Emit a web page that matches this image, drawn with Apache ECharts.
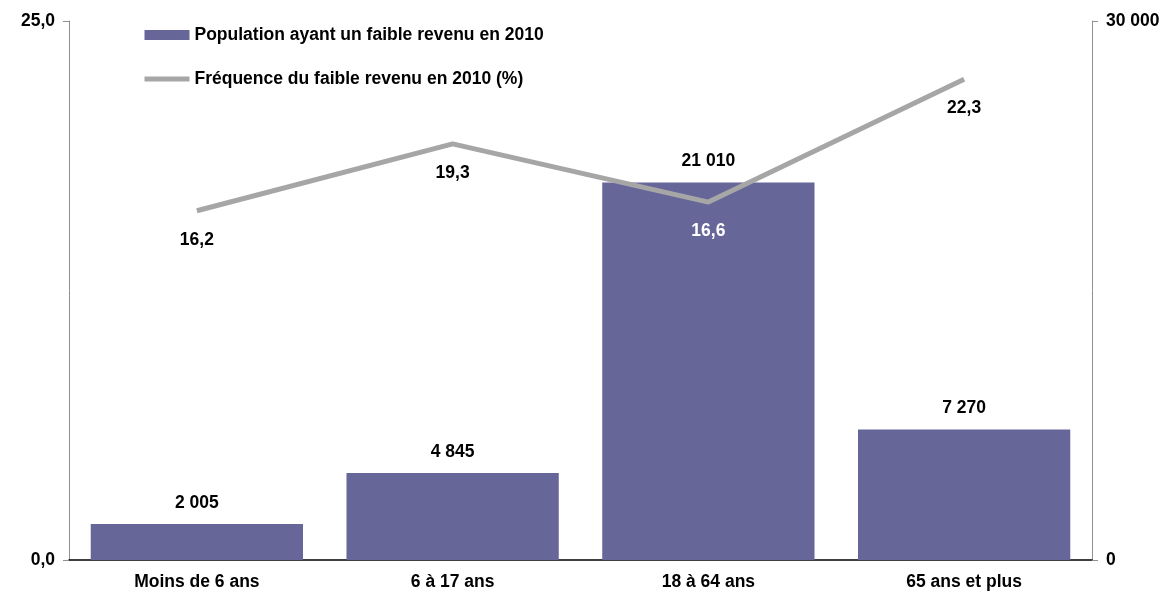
<!DOCTYPE html>
<html>
<head>
<meta charset="utf-8">
<script src="https://cdn.jsdelivr.net/npm/echarts@6/dist/echarts.min.js"></script>
<style>
html, body { margin: 0; padding: 0; background: #fff; }
#chart { width: 1173px; height: 594px; }
</style>
</head>
<body>
<div id="chart"></div>
<script>
const categories = ['Moins de 6 ans', '6 à 17 ans', '18 à 64 ans', '65 ans et plus']
const population = [2005, 4845, 21010, 7270]
const frequence = [16.2, 19.3, 16.6, 22.3]
const leftTicks = [0, 25]
const rightTicks = [0, 30000]

const font = 'Liberation Sans, Arial, sans-serif'
const fs = 17.5

function milliers(v) {
    return String(v).replace(/\B(?=(\d{3})+(?!\d))/g, ' ')
}
function virgule(v) {
    return v.toFixed(1).replace('.', ',')
}

let chart = echarts.init(document.getElementById('chart'))
let option = {
    animation: false,
    textStyle: { fontFamily: font },
    grid: { left: 69, right: 81, top: 21, bottom: 34 },
    legend: {
        orient: 'vertical',
        left: 142,
        top: 26,
        padding: 0,
        itemGap: 26,
        itemWidth: 45,
        itemHeight: 10,
        textStyle: { fontFamily: font, fontWeight: 'bold', fontSize: fs, color: '#000' },
        data: [
            { name: 'Population ayant un faible revenu en 2010', icon: 'rect' },
            {
                name: 'Fréquence du faible revenu en 2010 (%)',
                itemStyle: { opacity: 0 },
                lineStyle: { width: 5, color: '#A6A6A6' }
            }
        ]
    },
    xAxis: {
        type: 'category',
        data: categories,
        axisLine: { lineStyle: { color: '#000', width: 1.5 } },
        axisTick: { show: false },
        axisLabel: { color: '#000', fontWeight: 'bold', fontSize: fs, margin: 13, fontFamily: font }
    },
    yAxis: [
        {
            type: 'value',
            min: leftTicks[0],
            max: leftTicks[1],
            interval: leftTicks[1] - leftTicks[0],
            splitLine: { show: false },
            axisLine: { show: true, lineStyle: { color: '#909090' } },
            axisTick: { show: true, length: 6, lineStyle: { color: '#909090' } },
            axisLabel: { color: '#000', fontWeight: 'bold', fontSize: fs, margin: 14, fontFamily: font, formatter: virgule }
        },
        {
            type: 'value',
            min: rightTicks[0],
            max: rightTicks[1],
            interval: rightTicks[1] - rightTicks[0],
            splitLine: { show: false },
            axisLine: { show: true, lineStyle: { color: '#909090' } },
            axisTick: { show: true, length: 6, lineStyle: { color: '#909090' } },
            axisLabel: { color: '#000', fontWeight: 'bold', fontSize: fs, margin: 14, fontFamily: font, formatter: milliers }
        }
    ],
    series: [
        {
            name: 'Population ayant un faible revenu en 2010',
            type: 'bar',
            yAxisIndex: 1,
            barCategoryGap: '17%',
            itemStyle: { color: '#666699' },
            label: {
                show: true,
                position: 'top',
                distance: 12,
                color: '#000',
                fontWeight: 'bold',
                fontSize: fs,
                fontFamily: font,
                formatter: p => milliers(p.value)
            },
            data: population
        },
        {
            name: 'Fréquence du faible revenu en 2010 (%)',
            type: 'line',
            yAxisIndex: 0,
            symbol: 'circle',
            symbolSize: 0.01,
            lineStyle: { color: '#A6A6A6', width: 5 },
            itemStyle: { color: '#A6A6A6' },
            label: {
                show: true,
                position: 'bottom',
                distance: 20,
                fontWeight: 'bold',
                fontSize: fs,
                fontFamily: font,
                formatter: p => virgule(p.value),
                color: '#000'
            },
            data: frequence.map((v, i) => i === 2
                ? { value: v, label: { color: '#fff' } }
                : v)
        }
    ]
}
chart.setOption(option)
</script>
</body>
</html>
